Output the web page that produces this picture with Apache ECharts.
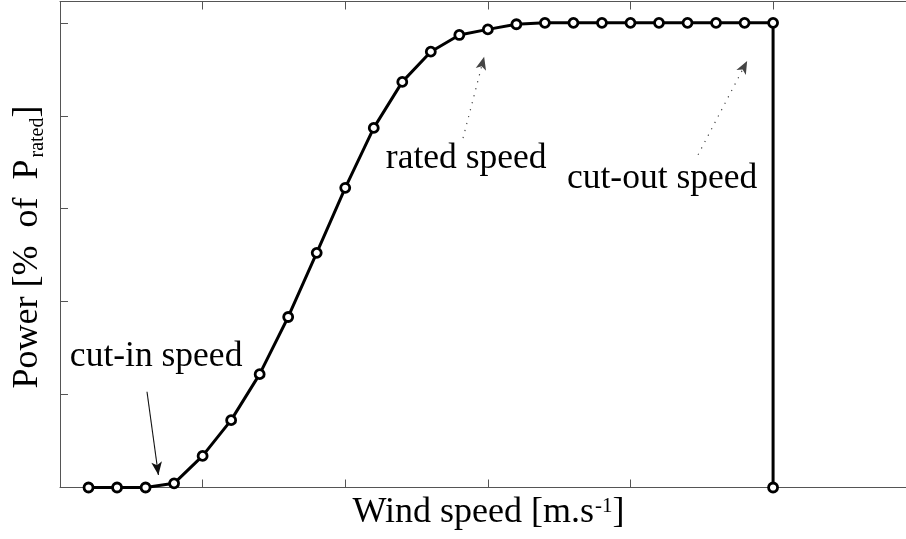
<!DOCTYPE html>
<html>
<head>
<meta charset="utf-8">
<script src="https://cdn.jsdelivr.net/npm/echarts@6/dist/echarts.min.js"></script>
<style>
  html, body { margin: 0; padding: 0; background: #fff; }
  #chart { width: 906px; height: 539px; }
</style>
</head>
<body>
<div id="chart"></div>
<script>
// Wind turbine power curve: output (% of rated power) against wind speed (m/s)
const windSpeed = [1, 2, 3, 4, 5, 6, 7, 8, 9, 10, 11, 12, 13, 14, 15, 16, 17, 18, 19, 20, 21, 22, 23, 24, 25, 25];
const powerPct  = [0, 0, 0, 0.9, 6.8, 14.5, 24.4, 36.7, 50.5, 64.5, 77.4, 87.3, 93.8, 97.4, 98.6, 99.7, 100, 100, 100, 100, 100, 100, 100, 100, 100, 0];

// Tick positions on the wind-speed axis and the power axis
const xTickValues = [0, 5, 10, 15, 20, 25];
const yTickValues = [0, 20, 40, 60, 80, 100];

// Annotation labels (text, centre position in data units)
const noteTexts = ['cut-in speed', 'rated speed', 'cut-out speed'];
const noteX     = [3.37, 14.24, 21.11];
const noteY     = [28.2, 70.8, 66.5];

// Annotation arrows: from (start) to (tip), in data units
const arrowFromX = [3.05, 14.13, 22.37];
const arrowFromY = [20.6, 75.2, 71.6];
const arrowToX   = [3.45, 14.87, 24.09];
const arrowToY   = [2.7, 92.7, 91.8];
const arrowDotted = [false, true, true];

const SERIF = '"Liberation Serif", "Times New Roman", serif';
const AXIS_COLOR = '#555';
const X_MAX = 29.66;
const Y_MAX = 104.6;

const chart = echarts.init(document.getElementById('chart'), null, { renderer: 'canvas' });

const curve = windSpeed.map((x, i) => [x, powerPct[i]]);
const notes = noteTexts.map((t, i) => ({ value: [noteX[i], noteY[i]], name: t }));
const arrows = arrowFromX.map((x, i) => {
  const style = arrowDotted[i]
    ? { color: '#444', width: 1.2, type: [1.2, 6] }
    : { color: '#111', width: 1.1, type: 'solid' };
  return [
    { coord: [x, arrowFromY[i]], symbol: 'none', lineStyle: style },
    { coord: [arrowToX[i], arrowToY[i]], symbol: 'arrow', symbolSize: [8, 13] }
  ];
});

function sharedX(position) {
  return {
    type: 'value',
    position: position,
    min: 0,
    max: X_MAX,
    axisLine: { show: true, onZero: false, lineStyle: { color: AXIS_COLOR, width: 1 } },
    axisTick: { show: true, inside: true, length: 8, customValues: xTickValues, lineStyle: { color: AXIS_COLOR, width: 1 } },
    axisLabel: { show: false },
    splitLine: { show: false }
  };
}

const xBottom = Object.assign(sharedX('bottom'), {
  name: '{t|Wind speed [m.s}{sup|-1}{t|]}',
  nameLocation: 'middle',
  nameGap: 5,
  nameTextStyle: {
    padding: [0, 0, 0, 11],
    rich: {
      t: { fontFamily: SERIF, fontSize: 36, color: '#000', lineHeight: 40 },
      sup: { fontFamily: SERIF, fontSize: 21, color: '#000', lineHeight: 40, verticalAlign: 'top', padding: [3, 0, 0, 1] }
    }
  }
});
const xTop = sharedX('top');

const option = {
  animation: false,
  backgroundColor: '#fff',
  grid: { left: 60, top: 1.5, right: 0, bottom: 51.5, containLabel: false },
  xAxis: [xBottom, xTop],
  yAxis: [{
    type: 'value',
    position: 'left',
    min: 0,
    max: Y_MAX,
    axisLine: { show: true, onZero: false, lineStyle: { color: AXIS_COLOR, width: 1 } },
    axisTick: { show: true, inside: true, length: 8, customValues: yTickValues, lineStyle: { color: AXIS_COLOR, width: 1 } },
    axisLabel: { show: false },
    splitLine: { show: false },
    name: '{t|Power [%  of  P}{sub|rated}{t|]}',
    nameLocation: 'middle',
    nameRotate: 90,
    nameGap: 12,
    nameTextStyle: {
      padding: [0, 5, 0, 0],
      rich: {
        t: { fontFamily: SERIF, fontSize: 36, color: '#000', lineHeight: 40 },
        sub: { fontFamily: SERIF, fontSize: 20, color: '#000', lineHeight: 40, verticalAlign: 'bottom', padding: [0, 0, 0, 2] }
      }
    }
  }],
  series: [
    {
      name: 'power',
      type: 'line',
      xAxisIndex: 0,
      yAxisIndex: 0,
      data: curve,
      symbol: 'circle',
      symbolSize: 9,
      showAllSymbol: true,
      lineStyle: { color: '#000', width: 3 },
      itemStyle: { color: '#fff', borderColor: '#000', borderWidth: 2.8 },
      z: 3
    },
    {
      name: 'notes',
      type: 'scatter',
      xAxisIndex: 0,
      yAxisIndex: 0,
      data: notes,
      symbol: 'circle',
      symbolSize: 1,
      itemStyle: { color: 'rgba(0,0,0,0)', opacity: 1 },
      silent: true,
      label: {
        show: true,
        position: 'inside',
        formatter: p => p.name,
        fontFamily: SERIF,
        fontSize: 35.5,
        color: '#000',
        opacity: 1,
        align: 'center',
        verticalAlign: 'middle'
      },
      markLine: {
        silent: true,
        animation: false,
        symbol: ['none', 'arrow'],
        label: { show: false },
        emphasis: { disabled: true },
        data: arrows
      },
      z: 2
    }
  ]
};

chart.setOption(option);
</script>
</body>
</html>
